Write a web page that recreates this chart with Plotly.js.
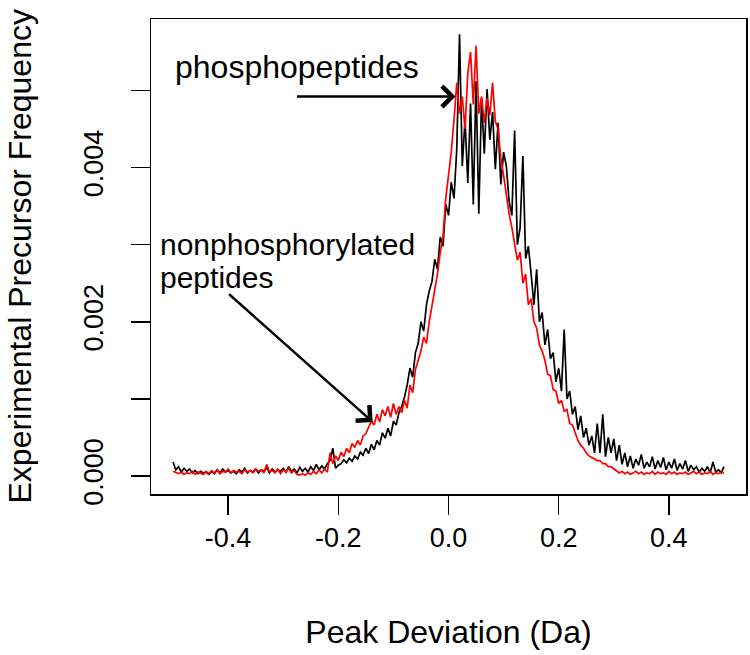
<!DOCTYPE html>
<html>
<head>
<meta charset="utf-8">
<script src="https://cdn.plot.ly/plotly-3.0.1.min.js"></script>
<style>
  body { margin: 0; background: white; }
  #graph { width: 750px; height: 655px; }
</style>
</head>
<body>
<div id="graph"></div>
<script>
// histogram bins: -0.5 .. 0.5 Da, width 0.005
const binStart = -0.5;
const binWidth = 0.005;

// nonphosphorylated peptides (black)
const nonphosFreq = [
    0.00018, 0.00008, 0.00012, 0.00005, 0.00010, 0.00006, 0.00009, 0.00004, 0.00007, 0.00003,
    0.00006, 0.00004, 0.00005, 0.00002, 0.00006, 0.00003, 0.00008, 0.00004, 0.00009, 0.00005,
    0.00007, 0.00004, 0.00006, 0.00003, 0.00008, 0.00005, 0.00010, 0.00004, 0.00007, 0.00005,
    0.00009, 0.00004, 0.00008, 0.00006, 0.00011, 0.00004, 0.00009, 0.00005, 0.00008, 0.00006,
    0.00010, 0.00005, 0.00012, 0.00006, 0.00009, 0.00004, 0.00011, 0.00006, 0.00010, 0.00005,
    0.00012, 0.00007, 0.00015, 0.00008, 0.00013, 0.00009, 0.00016,
    0.00020, 0.00036, 0.00010, 0.00014, 0.00016, 0.00021, 0.00017, 0.00023, 0.00019, 0.00026,
    0.00022, 0.00031, 0.00027, 0.00036, 0.00029, 0.00041, 0.00034, 0.00046, 0.00040, 0.00056,
    0.00049, 0.00062, 0.00052, 0.00071, 0.00066, 0.00082, 0.00090, 0.00102, 0.00118, 0.00140,
    0.00128, 0.00160,
    0.00172, 0.00200, 0.00188, 0.00222, 0.00240, 0.00252, 0.00281, 0.00268, 0.00310, 0.00298,
    0.00352, 0.00338, 0.00381, 0.00360, 0.00424, 0.00573, 0.00402, 0.00462, 0.00380, 0.00483,
    0.00352, 0.00512, 0.00340, 0.00490, 0.00418, 0.00502, 0.00436, 0.00472, 0.00398, 0.00458,
    0.00378, 0.00420, 0.00402, 0.00356, 0.00338, 0.00448, 0.00300, 0.00322, 0.00415, 0.00282,
    0.00298,
    0.00262, 0.00222, 0.00268, 0.00200, 0.00212, 0.00170, 0.00190, 0.00152, 0.00160, 0.00122,
    0.00140, 0.00110, 0.00190, 0.00100, 0.00110, 0.00080, 0.00090, 0.00060, 0.00078, 0.00050,
    0.00062, 0.00040, 0.00052, 0.00030, 0.00068, 0.00030, 0.00080, 0.00025, 0.00050, 0.00030,
    0.00048, 0.00020,
    0.00040, 0.00015, 0.00030, 0.00012, 0.00026, 0.00010, 0.00022, 0.00014, 0.00028, 0.00010,
    0.00018, 0.00012, 0.00025, 0.00009, 0.00020, 0.00011, 0.00024, 0.00008, 0.00018, 0.00010,
    0.00022, 0.00007, 0.00016, 0.00009, 0.00020, 0.00006, 0.00014, 0.00008, 0.00012, 0.00005,
    0.00010, 0.00006, 0.00012, 0.00004, 0.00018, 0.00005, 0.00008, 0.00004, 0.00012
];

// phosphopeptides (red)
const phosFreq = [
    0.00006, 0.00004, 0.00003, 0.00005, 0.00002, 0.00004, 0.00003, 0.00006, 0.00002, 0.00005,
    0.00004, 0.00002, 0.00006, 0.00003, 0.00007, 0.00004, 0.00008, 0.00003, 0.00006, 0.00005,
    0.00009, 0.00004, 0.00007, 0.00005, 0.00006, 0.00003, 0.00008, 0.00005, 0.00007, 0.00004,
    0.00009, 0.00006, 0.00008, 0.00004, 0.00015, 0.00005, 0.00007, 0.00004, 0.00009, 0.00003,
    0.00008, 0.00005, 0.00010, 0.00004, 0.00007, 0.00002, 0.00001, 0.00003, 0.00001, 0.00004,
    0.00002, 0.00006, 0.00003, 0.00008, 0.00004, 0.00009, 0.00005,
    0.00030, 0.00016, 0.00026, 0.00020, 0.00031, 0.00025, 0.00036, 0.00030, 0.00042, 0.00037,
    0.00046, 0.00040, 0.00052, 0.00055, 0.00062, 0.00071, 0.00066, 0.00080, 0.00070, 0.00086,
    0.00078, 0.00090, 0.00076, 0.00094, 0.00080, 0.00090, 0.00082, 0.00098, 0.00088, 0.00118,
    0.00108, 0.00138,
    0.00150, 0.00162, 0.00180, 0.00172, 0.00200, 0.00220, 0.00238, 0.00262, 0.00290, 0.00310,
    0.00360, 0.00392, 0.00420, 0.00462, 0.00510, 0.00470, 0.00492, 0.00450, 0.00522, 0.00550,
    0.00482, 0.00558, 0.00470, 0.00492, 0.00458, 0.00490, 0.00468, 0.00510, 0.00460, 0.00450,
    0.00412, 0.00390, 0.00362, 0.00340, 0.00322, 0.00300, 0.00280, 0.00290, 0.00250, 0.00262,
    0.00222,
    0.00230, 0.00200, 0.00192, 0.00170, 0.00162, 0.00150, 0.00132, 0.00130, 0.00112, 0.00110,
    0.00094, 0.00098, 0.00084, 0.00086, 0.00068, 0.00066, 0.00056, 0.00046, 0.00040, 0.00036,
    0.00030, 0.00026, 0.00024, 0.00022, 0.00020, 0.00020, 0.00016, 0.00016, 0.00012, 0.00012,
    0.00009, 0.00006,
    0.00004, 0.00006, 0.00003, 0.00005, 0.00002, 0.00004, 0.00006, 0.00003, 0.00005, 0.00002,
    0.00004, 0.00003, 0.00006, 0.00002, 0.00005, 0.00003, 0.00004, 0.00002, 0.00006, 0.00003,
    0.00005, 0.00002, 0.00004, 0.00003, 0.00005, 0.00002, 0.00004, 0.00006, 0.00003, 0.00005,
    0.00002, 0.00004, 0.00003, 0.00006, 0.00002, 0.00004, 0.00003, 0.00005, 0.00004
];

const xTicks = [-0.4, -0.2, 0, 0.2, 0.4];
const xTickLabels = ['-0.4', '-0.2', '0.0', '0.2', '0.4'];
const yTicks = [0, 0.001, 0.002, 0.003, 0.004, 0.005];
const yTickLabels = ['0.000', '', '0.002', '', '0.004', ''];

const binCenters = nonphosFreq.map((_, i) => +(binStart + i * binWidth).toFixed(3));

const font = 'Liberation Sans, Arial, sans-serif';

const nonphosTrace = {
    x: binCenters,
    y: nonphosFreq,
    mode: 'lines',
    line: { color: 'black', width: 1.7 },
    hoverinfo: 'x+y',
};

const phosTrace = {
    x: binCenters,
    y: phosFreq,
    mode: 'lines',
    line: { color: '#ff0000', width: 1.7 },
    hoverinfo: 'x+y',
};

const layout = {
    width: 750,
    height: 655,
    showlegend: false,
    plot_bgcolor: 'white',
    paper_bgcolor: 'white',
    font: { family: font, color: 'black' },
    margin: { l: 151, r: 4, t: 19, b: 161 },
    xaxis: {
        range: [-0.54, 0.54],
        tickvals: xTicks,
        ticktext: xTickLabels,
        ticks: 'outside',
        ticklen: 19,
        tickwidth: 1.5,
        tickcolor: 'black',
        tickfont: { size: 27 },
        showline: true,
        mirror: true,
        linecolor: 'black',
        linewidth: 1.5,
        showgrid: false,
        zeroline: false,
        title: { text: 'Peak Deviation (Da)', font: { size: 32 }, standoff: 68 },
    },
    yaxis: {
        range: [-0.000234, 0.005927],
        tickvals: yTicks,
        ticktext: yTickLabels,
        tickangle: -90,
        ticks: 'outside',
        ticklen: 19,
        tickwidth: 1.5,
        tickcolor: 'black',
        tickfont: { size: 27 },
        ticklabelstandoff: 17,
        showline: true,
        mirror: true,
        linecolor: 'black',
        linewidth: 1.5,
        showgrid: false,
        zeroline: false,
    },
    annotations: [
        {
            // y axis title, kept at the far left like the original
            x: -0.2202, y: 0.5, xref: 'paper', yref: 'paper',
            text: 'Experimental Precursor Frequency', showarrow: false,
            textangle: -90, xanchor: 'center', yanchor: 'middle',
            font: { size: 32 },
        },
        {
            x: -0.5, y: 0.0053, xref: 'x', yref: 'y',
            text: 'phosphopeptides', showarrow: false,
            xanchor: 'left', yanchor: 'middle',
            font: { size: 32 },
        },
        {
            x: 0.0127, y: 0.004922, xref: 'x', yref: 'y',
            ax: -160, ay: 0, text: '', showarrow: true,
            arrowhead: 4, arrowsize: 1.6, arrowwidth: 2.5, arrowcolor: 'black',
        },
        {
            x: -0.527, y: 0.0030, xref: 'x', yref: 'y',
            text: 'nonphosphorylated', showarrow: false,
            xanchor: 'left', yanchor: 'middle',
            font: { size: 30 },
        },
        {
            x: -0.527, y: 0.00257, xref: 'x', yref: 'y',
            text: 'peptides', showarrow: false,
            xanchor: 'left', yanchor: 'middle',
            font: { size: 30 },
        },
        {
            x: -0.1377, y: 0.000701, xref: 'x', yref: 'y',
            ax: -145, ay: -129, text: '', showarrow: true,
            arrowhead: 4, arrowsize: 1.6, arrowwidth: 2.5, arrowcolor: 'black',
        },
    ],
};

Plotly.newPlot('graph', [nonphosTrace, phosTrace], layout, { staticPlot: true });
</script>
</body>
</html>
